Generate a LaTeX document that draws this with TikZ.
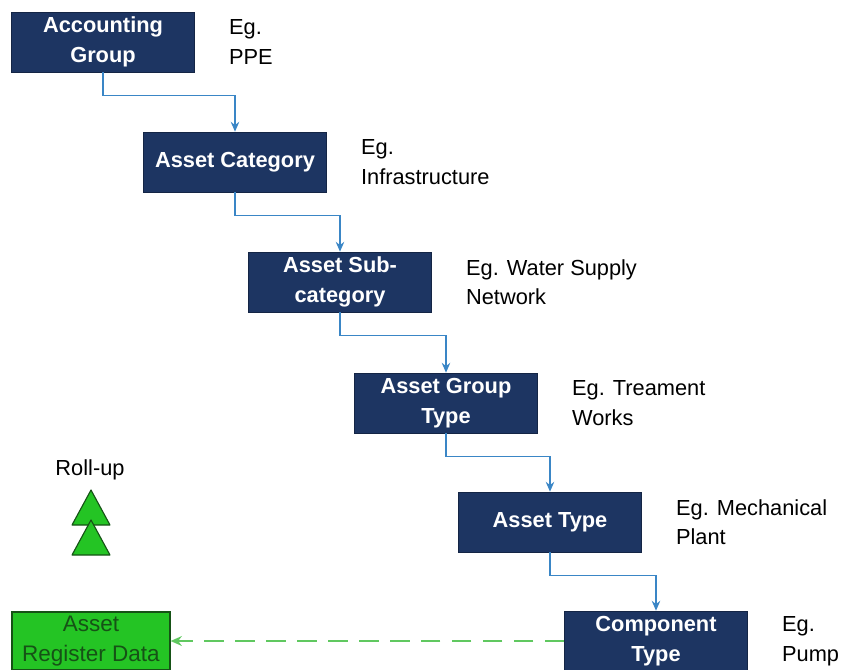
\documentclass[tikz,border=0pt]{standalone}
\usepackage{fontspec}
\setmainfont{Liberation Sans}
\usetikzlibrary{arrows.meta,positioning}

\definecolor{navy}{RGB}{29,53,98}
\definecolor{linkblue}{RGB}{58,134,198}
\definecolor{boxgreen}{RGB}{36,196,36}
\definecolor{darkgreen}{RGB}{22,82,22}
\definecolor{dashgreen}{RGB}{96,200,96}

\tikzstyle{level} = [rectangle,draw=navy!70!black,fill=navy,text=white,font=\fontsize{15.5}{21}\selectfont\bfseries,
  align=center,minimum width=4.575cm,minimum height=1.5cm,inner sep=0pt]
\tikzstyle{eg} = [font=\fontsize{15.5}{21}\selectfont,align=left,anchor=west,inner sep=0pt]
\tikzstyle{link} = [draw=linkblue,line width=1.1pt,-{Stealth[length=7pt,width=6pt]}]
\tikzstyle{register} = [rectangle,draw=darkgreen,thick,fill=boxgreen,text=darkgreen,font=\fontsize{16}{21}\selectfont,
  align=center,minimum width=3.95cm,minimum height=1.45cm,inner sep=0pt]
\tikzstyle{rollup} = [draw=darkgreen,fill=boxgreen,thick,line join=round]
\tikzstyle{feed} = [draw=dashgreen,line width=2pt,dash pattern=on 14pt off 8pt,-{Stealth[length=8pt,width=7pt]}]

\begin{document}
\begin{tikzpicture}[x=0.025cm,y=-0.025cm]
    \useasboundingbox (0,0) rectangle (841,670);
    %% hierarchy boxes and examples
    \foreach \nodename/\x/\y/\name/\example in {
      acc/103/42/{Accounting\\Group}/{Eg.\\PPE},
      cat/235/162/{Asset Category}/{Eg.\\Infrastructure},
      sub/340/282/{Asset Sub-\\category}/{Eg. Water Supply\\Network},
      grp/446/403/{Asset Group\\Type}/{Eg. Treament\\Works},
      typ/550/522/{Asset Type}/{Eg. Mechanical\\Plant},
      cmp/656/641/{Component\\Type}/{Eg.\\Pump}}
    {
      \node[level] (\nodename) at (\x,\y) {\name};
      \node[eg] (\nodename-eg) at ([xshift=0.85cm]\nodename.east) {\example};
    }
    %% elbow links between levels
    \foreach \startnode/\endnode in {acc/cat, cat/sub, sub/grp, grp/typ, typ/cmp}
    {
      \draw[link] (\startnode.south) -- ++(0,23) -| (\endnode.north);
    }
    %% roll-up
    \node[font=\fontsize{15.5}{21}\selectfont] (rollup) at (90,470) {Roll-up};
    \draw[rollup] (72,525) -- (91,490) -- (110,525) -- cycle;
    \draw[rollup] (72,555) -- (91,520) -- (110,555) -- cycle;
    %% asset register data
    \node[register] (reg) at (91,641) {Asset\\Register Data};
    \draw[feed] (cmp.west) -- (reg.east);
  \end{tikzpicture}
\end{document}
